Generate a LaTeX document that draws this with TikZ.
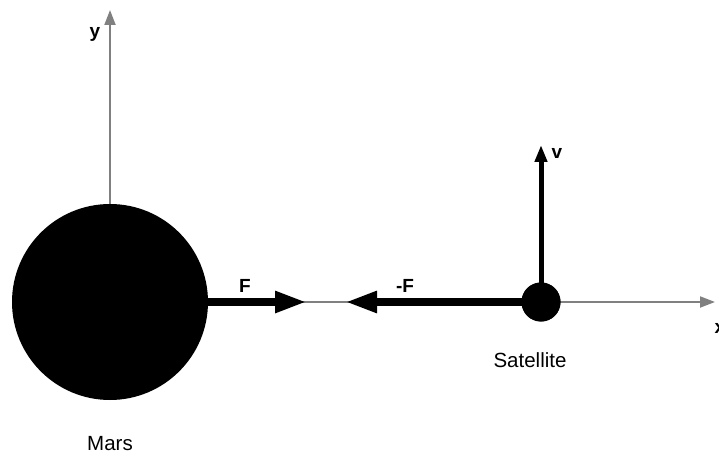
\documentclass[tikz,border=0pt]{standalone}
\usepackage{fontspec}
\setmainfont{Liberation Sans}
\usetikzlibrary{arrows.meta}
\definecolor{axisgray}{HTML}{808080}
\begin{document}
\begin{tikzpicture}[x=1pt,y=-1pt,
  body/.style={circle,fill=black,inner sep=0pt,minimum size=#1},
  axis/.style={draw=axisgray,line width=2pt,-{Triangle[length=15pt,width=11pt]}},
  force/.style={line width=8pt,-{Triangle[length=32pt,width=20pt]}},
  vel/.style={line width=5pt,-{Triangle[length=17pt,width=12pt]}},
  lbl/.style={font=\fontsize{20.5}{24}\selectfont},
  blbl/.style={font=\bfseries\fontsize{19}{22}\selectfont}]
\useasboundingbox (0,0) rectangle (719,457);
\coordinate (marsc) at (110,302);
\coordinate (ytip) at (110,10);
\coordinate (xtip) at (715,302);
\coordinate (ftip) at (307,302);
\coordinate (mftip) at (345,302);
\coordinate (vtip) at (541,145);
% axes (behind the bodies)
\draw[axis] (marsc) -- (xtip);
\draw[axis] (marsc) -- (ytip);
\node[body=196pt] (mars) at (marsc) {};
\node[body=39pt] (sat) at (541,302) {};
% forces
\draw[force] (mars.east) -- (ftip);
\draw[force] (sat.center) -- (mftip);
\draw[vel] (sat.center) -- (vtip);
\fill (sat.center) circle (19.5pt);
% labels
\node[blbl] (ly) at (95,34) {y};
\node[blbl] (lx) at (720,328) {x};
\node[blbl] (lv) at (557,153) {v};
\node[blbl] (lf) at (245,286) {F};
\node[blbl] (lmf) at (405,286) {-F};
\node[lbl] (lsat) at (530,360) {Satellite};
\node[lbl] (lmars) at (110,444) {Mars};
\end{tikzpicture}
\end{document}
